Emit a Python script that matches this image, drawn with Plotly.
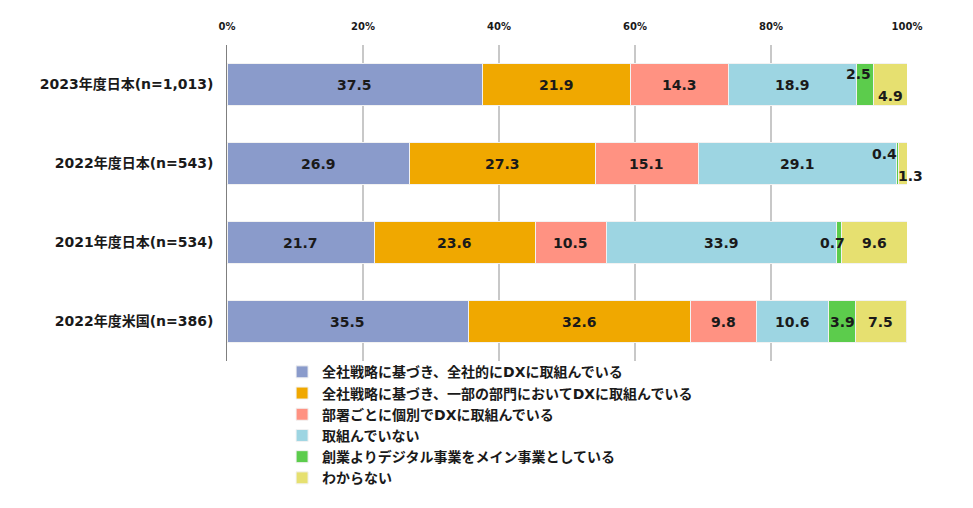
import plotly.graph_objects as go

categories = ["2023年度日本(n=1,013)", "2022年度日本(n=543)", "2021年度日本(n=534)", "2022年度米国(n=386)"]
series_names = [
    "全社戦略に基づき、全社的にDXに取組んでいる",
    "全社戦略に基づき、一部の部門においてDXに取組んでいる",
    "部署ごとに個別でDXに取組んでいる",
    "取組んでいない",
    "創業よりデジタル事業をメイン事業としている",
    "わからない",
]
s1 = [37.5, 26.9, 21.7, 35.5]
s2 = [21.9, 27.3, 23.6, 32.6]
s3 = [14.3, 15.1, 10.5, 9.8]
s4 = [18.9, 29.1, 33.9, 10.6]
s5 = [2.5, 0.4, 0.7, 3.9]
s6 = [4.9, 1.3, 9.6, 7.5]
tick_vals = [0, 20, 40, 60, 80, 100]
tick_text = ["0%", "20%", "40%", "60%", "80%", "100%"]

series = [s1, s2, s3, s4, s5, s6]
colors = ["#8A9BCB", "#F0A800", "#FF9282", "#9DD5E2", "#5CCC4C", "#E6E070"]

FONT = "Verdana, 'DejaVu Sans', 'Noto Sans CJK JP', sans-serif"
TXT = "#1a1a1a"

# label offsets (pixels) for small segments: (series index, category index) -> (xshift, yshift)
label_offsets = {
    (4, 0): (-7, 11),
    (5, 0): (0, -11),
    (4, 1): (-13, 10),
    (5, 1): (7, -12),
    (4, 2): (-7, 0),
}

fig = go.Figure()
for name, vals, col in zip(series_names, series, colors):
    fig.add_trace(go.Bar(
        y=categories, x=vals, name=name, orientation="h",
        marker=dict(color=col, line=dict(color="#F2F2F2", width=1)),
        hoverinfo="x+name",
    ))

annotations = []
for ci, cat in enumerate(categories):
    cum = 0.0
    for si, vals in enumerate(series):
        v = vals[ci]
        center = cum + v / 2
        cum += v
        xs, ys = label_offsets.get((si, ci), (0, 0))
        annotations.append(dict(
            x=center, y=cat, xref="x", yref="y", text=f"{v:.1f}",
            showarrow=False, xshift=xs, yshift=ys,
            font=dict(family=FONT, size=14, color=TXT, weight="bold"),
        ))

fig.update_layout(
    barmode="stack",
    bargap=0.47,
    width=973, height=508,
    margin=dict(l=219, r=74, t=37, b=155),
    plot_bgcolor="white", paper_bgcolor="white",
    font=dict(family=FONT, size=14, color=TXT, weight="bold"),
    annotations=annotations,
    showlegend=True,
    legend=dict(
        x=0.081, y=0.015, xanchor="left", yanchor="top",
        font=dict(family=FONT, size=14, color=TXT, weight="bold"),
        traceorder="normal", tracegroupgap=0, itemwidth=30,
        bgcolor="rgba(0,0,0,0)",
    ),
    xaxis=dict(
        side="top", range=[0, 100], tickvals=tick_vals, ticktext=tick_text,
        showgrid=True, gridcolor="#C8C8C8", gridwidth=2,
        zeroline=False, showline=False,
        ticks="outside", ticklen=10, tickcolor="rgba(0,0,0,0)",
        tickfont=dict(family=FONT, size=10, color=TXT, weight="bold"),
        fixedrange=True,
    ),
    yaxis=dict(
        autorange="reversed", showline=True, linecolor="#7f7f7f", linewidth=1,
        ticks="", ticksuffix="  ",
        tickfont=dict(family=FONT, size=14, color=TXT, weight="bold"),
    ),
)

fig.write_html("out.html")
